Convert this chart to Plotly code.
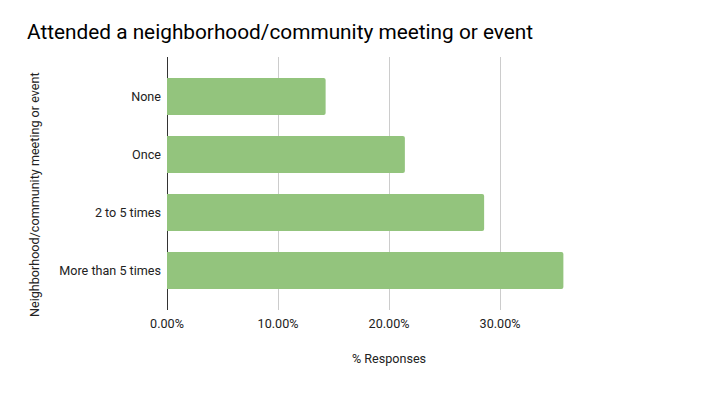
import plotly.graph_objects as go

categories = ["None", "Once", "2 to 5 times", "More than 5 times"]
values = [0.1429, 0.2143, 0.2857, 0.3571]
x_tickvals = [0, 0.1, 0.2, 0.3, 0.4]
x_ticktext = ["0.00%", "10.00%", "20.00%", "30.00%", ""]

# The page body has an 8px margin, so the figure is 8px smaller and offset.
W, H = 695, 386

fig = go.Figure(go.Bar(
    y=categories, x=values, orientation="h",
    marker=dict(color="#93c47d", cornerradius=2, line=dict(width=0)),
    width=0.64,
))

fig.update_layout(
    width=W, height=H,
    margin=dict(l=159, r=92, t=49, b=84, autoexpand=False),
    paper_bgcolor="white", plot_bgcolor="white",
    font=dict(family="Roboto", size=12.6, color="#222222"),
    title=dict(text="Attended a neighborhood/community meeting or event",
               x=19/W, xanchor="left", y=1-24/H, yanchor="middle",
               font=dict(family="Roboto", size=20.8, color="#000000")),
    showlegend=False,
    bargap=0.36,
    annotations=[dict(
        text="Neighborhood/community meeting or event",
        xref="paper", yref="paper", x=-0.2973, y=0.4585,
        xanchor="center", yanchor="middle", textangle=-90, showarrow=False,
        font=dict(family="Roboto", size=12.6, color="#222222"),
    )],
)
fig.update_xaxes(
    range=[0, 0.4], tickvals=x_tickvals, ticktext=x_ticktext,
    showgrid=True, gridcolor="#cccccc", gridwidth=1,
    zeroline=True, zerolinecolor="#333333", zerolinewidth=1,
    showline=False, ticks="", automargin=False, ticklabelstandoff=4,
    title=dict(text="% Responses", standoff=24, font=dict(size=12.6, color="#222222")),
)
fig.update_yaxes(
    categoryorder="array", categoryarray=categories,
    range=[3.68, -0.68], showgrid=False, zeroline=False, showline=False,
    ticks="", ticklabelstandoff=5, automargin=False,
)

fig.write_html("out.html")
